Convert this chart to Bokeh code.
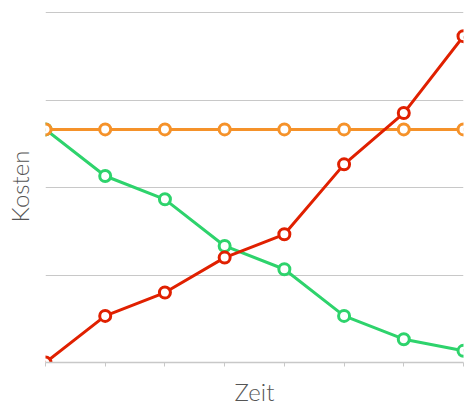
from bokeh.plotting import figure
from bokeh.models import FixedTicker, Range1d
from bokeh.embed import file_html
from bokeh.resources import INLINE

# Data
x = list(range(8))
orange = [20, 20, 20, 20, 20, 20, 20, 20]
green = [20, 16, 14, 10, 8, 4, 2, 1]
red = [0, 4, 6, 9, 11, 17, 21.4, 28]
y_ticks = [0, 7.5, 15, 22.5, 30]
x_label = "Zeit"
y_label = "Kosten"

FONT = "'Lato Light', Lato, sans-serif"
GRID = "#c8c8c8"
TEXT = "#555555"

p = figure(width=470, height=410, output_backend="svg", toolbar_location=None,
           x_range=Range1d(0, 7), y_range=Range1d(0, 30.2),
           min_border_left=45, min_border_right=7, min_border_top=10,
           min_border_bottom=48)
p.outline_line_color = None
p.background_fill_color = "white"
p.border_fill_color = "white"

p.xgrid.visible = False
p.ygrid.ticker = FixedTicker(ticks=y_ticks)
p.ygrid.grid_line_color = GRID
p.ygrid.grid_line_width = 1

# x axis
p.xaxis.ticker = FixedTicker(ticks=x)
p.xaxis.axis_line_color = GRID
p.xaxis.axis_line_width = 1.5
p.xaxis.major_tick_line_color = GRID
p.xaxis.major_tick_in = 0
p.xaxis.major_tick_out = 4
p.xaxis.minor_tick_line_color = None
p.xaxis.major_label_text_font_size = "0px"
p.xaxis.major_label_standoff = 0
p.xaxis.axis_label = x_label
p.xaxis.axis_label_text_font = FONT
p.xaxis.axis_label_text_font_style = "normal"
p.xaxis.axis_label_text_font_size = "24px"
p.xaxis.axis_label_text_color = TEXT
p.xaxis.axis_label_standoff = 10

# y axis
p.yaxis.ticker = FixedTicker(ticks=y_ticks)
p.yaxis.axis_line_color = None
p.yaxis.major_tick_line_color = None
p.yaxis.minor_tick_line_color = None
p.yaxis.major_label_text_font_size = "0px"
p.yaxis.major_label_standoff = 0
p.yaxis.axis_label = y_label
p.yaxis.axis_label_text_font = FONT
p.yaxis.axis_label_text_font_style = "normal"
p.yaxis.axis_label_text_font_size = "24px"
p.yaxis.axis_label_text_color = TEXT
p.yaxis.axis_label_standoff = 6

series = [(green, "#2ed36c"), (orange, "#f5922a"), (red, "#e02000")]
for ys, c in series:
    p.line(x, ys, line_color=c, line_width=3)
    p.scatter(x, ys, size=11, line_width=3, line_color=c, fill_color="white")

open("out.html", "w").write(file_html(p, INLINE))
